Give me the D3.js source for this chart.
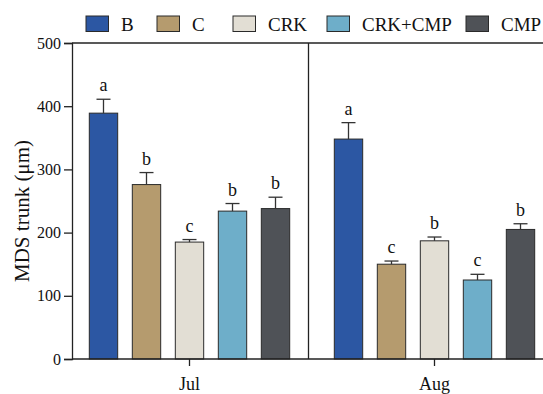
<!DOCTYPE html>
<html>
<head>
<meta charset="utf-8">
<script src="https://cdn.jsdelivr.net/npm/d3@7"></script>
<style>
  html, body { margin: 0; padding: 0; background: #fff; }
  svg { display: block; font-family: "Liberation Serif", "DejaVu Serif", serif; }
</style>
</head>
<body>
<svg id="chart" width="543" height="394"></svg>
<script>
// Sampling months and treatments
const months = ["Jul", "Aug"];
const treatments = ["B", "C", "CRK", "CRK+CMP", "CMP"];

// Mean MDS of the trunk (µm) per treatment, one array per month
const julMeans = [389, 276, 185, 234, 238];
const augMeans = [348, 150, 187, 125, 205];

// Standard errors
const julErrors = [22, 19, 4, 12, 18];
const augErrors = [26, 5, 6, 9, 9];

// Significance letters
const julLetters = ["a", "b", "c", "b", "b"];
const augLetters = ["a", "c", "b", "c", "b"];

const yTicks = [0, 100, 200, 300, 400, 500];

const colors = ["#2c57a3", "#b59b6e", "#e2ded4", "#6eaec9", "#4f5257"];

const rows = [];
months.forEach((m, mi) => {
  const means = mi === 0 ? julMeans : augMeans;
  const errs = mi === 0 ? julErrors : augErrors;
  const lets = mi === 0 ? julLetters : augLetters;
  treatments.forEach((t, ti) => {
    rows.push({ month: m, treatment: t, value: means[ti], err: errs[ti], letter: lets[ti] });
  });
});

const svg = d3.select("#chart");
const plot = { left: 72, right: 543, top: 43, bottom: 359 };

const y = d3.scaleLinear().domain([0, 500]).range([plot.bottom, plot.top]);
const x0 = d3.scaleBand().domain(months).range([67, 557]).padding(0);
const x1 = d3.scaleBand().domain(treatments)
  .range([-x0.bandwidth() * 0.4388, x0.bandwidth() * 0.4388])
  .paddingInner(0.34).paddingOuter(0.17);
const color = d3.scaleOrdinal().domain(treatments).range(colors);

const ink = "#222";

// Bars
svg.append("g").selectAll("rect").data(rows).join("rect")
  .attr("x", d => x0(d.month) + x0.bandwidth() / 2 + x1(d.treatment))
  .attr("y", d => y(d.value))
  .attr("width", x1.bandwidth())
  .attr("height", d => y(0) - y(d.value))
  .attr("fill", d => color(d.treatment))
  .attr("stroke", "#2a2a2a")
  .attr("stroke-width", 1);

// Error bars (upper half only)
const eb = svg.append("g").attr("stroke", "#333").attr("stroke-width", 1.3);
const cx = d => x0(d.month) + x0.bandwidth() / 2 + x1(d.treatment) + x1.bandwidth() / 2;
eb.selectAll("line.v").data(rows).join("line").attr("class", "v")
  .attr("x1", cx).attr("x2", cx)
  .attr("y1", d => y(d.value)).attr("y2", d => y(d.value + d.err));
eb.selectAll("line.c").data(rows).join("line").attr("class", "c")
  .attr("x1", d => cx(d) - 7).attr("x2", d => cx(d) + 7)
  .attr("y1", d => y(d.value + d.err)).attr("y2", d => y(d.value + d.err));

// Letters
svg.append("g").selectAll("text").data(rows).join("text")
  .attr("x", cx)
  .attr("y", d => y(d.value + d.err) - 8)
  .attr("text-anchor", "middle")
  .attr("font-size", 18)
  .attr("fill", "#111")
  .text(d => d.letter);

// Y axis
const yAxis = svg.append("g").attr("transform", `translate(${plot.left},0)`)
  .call(d3.axisLeft(y).tickValues(yTicks).tickSize(8).tickPadding(3));
yAxis.select(".domain").attr("stroke", ink).attr("stroke-width", 1.3);
yAxis.selectAll(".tick line").attr("stroke", ink).attr("stroke-width", 1.3);
yAxis.selectAll(".tick text").attr("font-size", 16).attr("fill", "#111")
  .attr("font-family", "Liberation Serif, serif");

// X axis
svg.append("line").attr("x1", plot.left).attr("x2", plot.right)
  .attr("y1", plot.bottom).attr("y2", plot.bottom)
  .attr("stroke", ink).attr("stroke-width", 1.3);
const xAxis = svg.append("g").attr("transform", `translate(0,${plot.bottom})`)
  .call(d3.axisBottom(x0).tickSize(7).tickPadding(11));
xAxis.select(".domain").remove();
xAxis.selectAll(".tick line").attr("stroke", ink).attr("stroke-width", 1.3);
xAxis.selectAll(".tick text").attr("font-size", 18).attr("fill", "#111")
  .attr("font-family", "Liberation Serif, serif");

// Top frame line and month divider
svg.append("line").attr("x1", plot.left).attr("x2", plot.right)
  .attr("y1", plot.top).attr("y2", plot.top)
  .attr("stroke", ink).attr("stroke-width", 1.3);
svg.append("line").attr("x1", 308.5).attr("x2", 308.5)
  .attr("y1", plot.top).attr("y2", plot.bottom)
  .attr("stroke", ink).attr("stroke-width", 1.3);

// Y axis title
svg.append("text")
  .attr("transform", `translate(29,${(plot.top + plot.bottom) / 2 + 10}) rotate(-90)`)
  .attr("text-anchor", "middle")
  .attr("font-size", 21)
  .attr("fill", "#111")
  .text("MDS trunk (μm)");

// Legend: one swatch + label per treatment along the top
const legendX = [86, 157, 233, 327, 466];
const legend = svg.append("g");
treatments.forEach((t, i) => {
  legend.append("rect").attr("x", legendX[i]).attr("y", 16).attr("width", 22.5).attr("height", 15.5)
    .attr("fill", color(t)).attr("stroke", "#2a2a2a").attr("stroke-width", 1);
  legend.append("text").attr("x", legendX[i] + 35).attr("y", 30.5)
    .attr("font-size", 19).attr("fill", "#111").text(t);
});
</script>
</body>
</html>
